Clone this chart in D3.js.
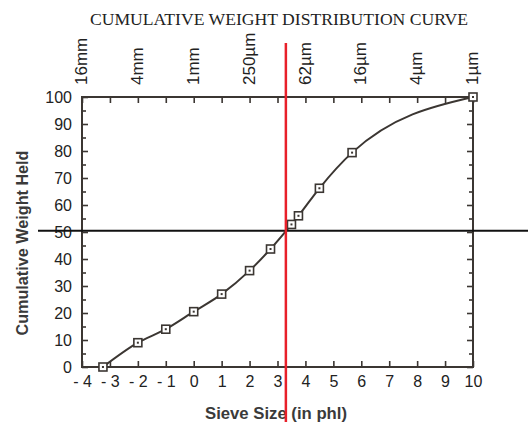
<!DOCTYPE html>
<html>
<head>
<meta charset="utf-8">
<script src="https://cdn.jsdelivr.net/npm/d3@7"></script>
<style>
  body { margin: 0; background: #fff; }
  svg { display: block; }
</style>
</head>
<body>
<script>
// sieve data
const phi = [-3.25, -2, -1, 0, 1, 2, 2.75, 3.5, 3.75, 4.5, 5.67, 10];
const heldPct = [0, 9, 14, 20.5, 27, 35.7, 43.7, 52.8, 56, 66.2, 79.4, 100];
const phiTicks = d3.range(-4, 11);
const pctTicks = d3.range(0, 101, 10);
const pctMinor = d3.range(5, 100, 10);
const sizeTicks = [-4, -2, 0, 2, 4, 6, 8, 10];
const sizeLabels = ["16mm", "4mm", "1mm", "250µm", "62µm", "16µm", "4µm", "1µm"];
const medianPhi = 3.3;
const medianPct = 50.5;

const width = 528, height = 426;
const margin = {top: 97, right: 55, bottom: 59, left: 82};
const ink = "#3b3632";
const sans = "Liberation Sans, Arial, sans-serif";

const svg = d3.select("body").append("svg")
    .attr("width", width)
    .attr("height", height);

const x = d3.scaleLinear().domain([-4, 10]).range([margin.left, width - margin.right]);
const y = d3.scaleLinear().domain([0, 100]).range([height - margin.bottom, margin.top]);

svg.append("text")
    .attr("x", 279).attr("y", 25)
    .attr("text-anchor", "middle")
    .attr("font-family", "Liberation Serif, Times New Roman, serif")
    .attr("font-size", 16)
    .attr("textLength", 378)
    .attr("lengthAdjust", "spacingAndGlyphs")
    .attr("fill", "#222")
    .text("CUMULATIVE WEIGHT DISTRIBUTION CURVE");

function styleAxis(g) {
    g.select(".domain").remove();
    g.selectAll(".tick line").attr("stroke", ink).attr("stroke-width", 1.6);
    g.selectAll(".tick text").attr("font-family", sans).attr("font-size", 16).attr("fill", "#222");
}

// left + right
svg.append("g").attr("transform", `translate(${margin.left},0)`)
    .call(d3.axisLeft(y).tickValues(pctTicks).tickSize(-6).tickPadding(10))
    .call(styleAxis);
svg.append("g").attr("transform", `translate(${margin.left},0)`)
    .call(d3.axisLeft(y).tickValues(pctMinor).tickSize(-4).tickFormat(""))
    .call(styleAxis);
svg.append("g").attr("transform", `translate(${width - margin.right},0)`)
    .call(d3.axisRight(y).tickValues(pctTicks).tickSize(-6).tickFormat(""))
    .call(styleAxis);
svg.append("g").attr("transform", `translate(${width - margin.right},0)`)
    .call(d3.axisRight(y).tickValues(pctMinor).tickSize(-4).tickFormat(""))
    .call(styleAxis);

// bottom + top
svg.append("g").attr("transform", `translate(0,${height - margin.bottom})`)
    .call(d3.axisBottom(x).tickValues(phiTicks).tickSize(-6).tickPadding(9)
        .tickFormat(d => d < 0 ? "- " + (-d) : d))
    .call(styleAxis);
svg.append("g").attr("transform", `translate(0,${margin.top})`)
    .call(d3.axisTop(x).tickValues(phiTicks).tickSize(-6).tickFormat(""))
    .call(styleAxis);

svg.append("g").selectAll("text")
    .data(sizeTicks)
    .join("text")
    .attr("transform", d => `translate(${x(d) - 1},85) rotate(-90)`)
    .attr("dy", "0.36em")
    .attr("font-family", sans)
    .attr("font-size", 17)
    .attr("fill", "#222")
    .text((d, i) => sizeLabels[i]);

svg.append("rect")
    .attr("x", margin.left).attr("y", margin.top)
    .attr("width", width - margin.left - margin.right)
    .attr("height", height - margin.top - margin.bottom)
    .attr("fill", "none")
    .attr("stroke", ink)
    .attr("stroke-width", 2);

// axis titles
svg.append("text")
    .attr("transform", "translate(27.5,243) rotate(-90)")
    .attr("text-anchor", "middle")
    .attr("font-family", sans)
    .attr("font-weight", "bold")
    .attr("font-size", 16)
    .attr("textLength", 185)
    .attr("lengthAdjust", "spacingAndGlyphs")
    .attr("fill", "#3a3a3a")
    .text("Cumulative Weight Held");

svg.append("text")
    .attr("x", 276).attr("y", 419)
    .attr("text-anchor", "middle")
    .attr("font-family", sans)
    .attr("font-weight", "bold")
    .attr("font-size", 16)
    .attr("textLength", 142)
    .attr("lengthAdjust", "spacingAndGlyphs")
    .attr("fill", "#3a3a3a")
    .text("Sieve Size (in phl)");

// curve
const pts = phi.map((p, i) => [p, heldPct[i]]);
svg.append("path")
    .datum(pts)
    .attr("fill", "none")
    .attr("stroke", ink)
    .attr("stroke-width", 2)
    .attr("d", d3.line().x(d => x(d[0])).y(d => y(d[1])).curve(d3.curveMonotoneX));

const mk = svg.append("g").selectAll("g")
    .data(pts)
    .join("g")
    .attr("transform", d => `translate(${x(d[0])},${y(d[1])})`);
mk.append("rect")
    .attr("x", -4).attr("y", -4).attr("width", 8).attr("height", 8)
    .attr("fill", "#fff").attr("stroke", ink).attr("stroke-width", 1.6);
mk.append("rect")
    .attr("x", -1).attr("y", -1).attr("width", 2).attr("height", 2)
    .attr("fill", ink);

// median guide lines
svg.append("line")
    .attr("x1", 38).attr("x2", width)
    .attr("y1", y(medianPct)).attr("y2", y(medianPct))
    .attr("stroke", "#111").attr("stroke-width", 2);
svg.append("line")
    .attr("x1", x(medianPhi)).attr("x2", x(medianPhi))
    .attr("y1", 43).attr("y2", 422)
    .attr("stroke", "#e8202a").attr("stroke-width", 2.5);
</script>
</body>
</html>
